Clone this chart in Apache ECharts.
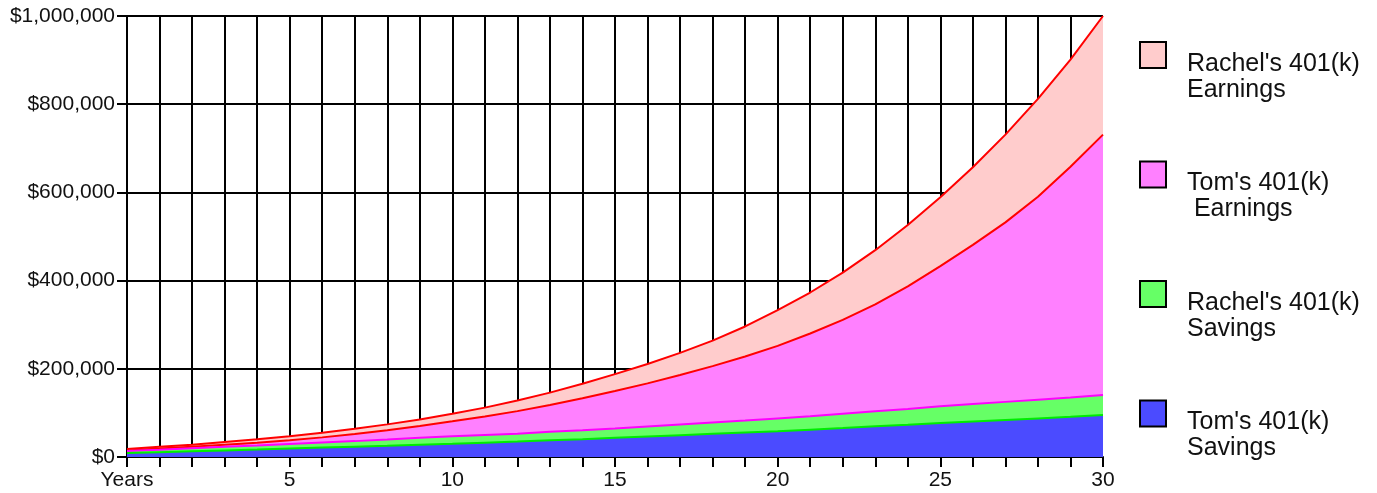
<!DOCTYPE html>
<html>
<head>
<meta charset="utf-8">
<title>401(k) Savings and Earnings</title>
<script src="https://cdn.jsdelivr.net/npm/echarts@6/dist/echarts.min.js"></script>
<style>
	html, body { margin: 0; padding: 0; background: #fff; }
	#myChart { width: 1377px; height: 493px; }
</style>
</head>
<body>
<div id="myChart"></div>
<script>
// years on the x axis
var years = [0, 1, 2, 3, 4, 5, 6, 7, 8, 9, 10, 11, 12, 13, 14, 15, 16, 17, 18, 19, 20, 21, 22, 23, 24, 25, 26, 27, 28, 29, 30]
// stacked bands, in dollars (bottom to top)
var tomSavings = [9000, 11000, 13000, 15000, 17000, 19500, 21500, 23500, 25500, 28000, 30000, 32500, 35000, 38000, 40500, 43500, 46500, 49500, 52500, 55500, 58500, 62000, 65500, 69500, 73000, 77000, 80500, 84000, 87500, 91000, 95000]
var rachelSavings = [4500, 5500, 7000, 8000, 9000, 10000, 11500, 12500, 14000, 15500, 17000, 17500, 18000, 19000, 20000, 21000, 22500, 24000, 25500, 27000, 29000, 30500, 32500, 34000, 36000, 38000, 39500, 41000, 42500, 44000, 45500]
var tomEarnings = [1500, 2500, 3500, 5000, 6500, 8500, 11500, 16000, 21000, 27000, 34000, 42000, 51000, 61000, 72500, 85000, 98000, 112500, 128000, 145500, 164500, 187500, 213000, 242500, 278000, 318000, 361000, 407000, 460000, 523000, 590500]
var rachelEarnings = [3000, 4000, 4500, 6000, 7500, 9000, 10500, 12000, 13500, 14500, 17000, 20000, 24000, 28000, 33000, 38500, 44000, 50000, 58000, 68000, 81000, 93000, 107000, 123000, 139000, 156000, 176000, 199000, 222000, 243000, 269000]
// labelled x ticks, the first one reads "Years"
var xLabelYears = [5, 10, 15, 20, 25, 30]

var FONT = '"Liberation Sans", Arial, Helvetica, sans-serif'

function money(v) {
	return '$' + String(v).replace(/\B(?=(\d{3})+(?!\d))/g, ',')
}
function band(name, values, fill, line, z) {
	return {
		name: name,
		type: 'line',
		stack: 'total',
		symbol: 'none',
		showSymbol: false,
		silent: true,
		z: z,
		itemStyle: { color: fill },
		lineStyle: { color: line, width: 2 },
		areaStyle: { color: fill, opacity: 1 },
		data: values
	}
}

var myEcharts = echarts.init(document.getElementById('myChart'))
myEcharts.setOption({
	animation: false,
	backgroundColor: '#fff',
	grid: {
		left: 127,
		right: 274,
		top: 16,
		bottom: 36,
		containLabel: false,
		outerBoundsMode: 'none'
	},
	legend: {
		orient: 'vertical',
		left: 1139,
		top: 28,
		padding: 0,
		itemWidth: 26,
		itemHeight: 26,
		itemGap: 45,
		icon: 'rect',
		selectedMode: false,
		itemStyle: { borderColor: '#000', borderWidth: 2 },
		// blank first row pushes the two text rows a bit below the box centre
		formatter: function(name) {
			return '{pad| }\n' + name.split('\n').map(function(s) { return '{t|' + s + '}' }).join('\n')
		},
		textStyle: {
			rich: {
				pad: { fontSize: 2, lineHeight: 44 },
				t: { fontFamily: FONT, fontSize: 25, lineHeight: 26, color: '#111', padding: [0, 0, 0, 16] }
			}
		},
		data: ["Rachel's 401(k)\nEarnings", "Tom's 401(k)\n Earnings", "Rachel's 401(k)\nSavings", "Tom's 401(k)\nSavings"]
	},
	xAxis: {
		type: 'category',
		data: years,
		boundaryGap: false,
		axisLine: { lineStyle: { color: '#000', width: 2 } },
		axisTick: { show: true, inside: false, interval: 0, length: 10, lineStyle: { color: '#000', width: 2 } },
		// last grid line sits under the coloured right edge of the areas
		splitLine: {
			show: true,
			interval: function(i) { return i < years.length - 1 },
			lineStyle: { color: '#000', width: 2 }
		},
		axisLabel: {
			interval: 0,
			margin: 13,
			fontFamily: FONT,
			fontSize: 21,
			color: '#111',
			formatter: function(v, i) {
				if (i === 0) return 'Years'
				return xLabelYears.indexOf(years[i]) >= 0 ? String(years[i]) : ''
			}
		}
	},
	yAxis: {
		type: 'value',
		min: 0,
		max: 1000000,
		interval: 200000,
		axisLine: { show: true, lineStyle: { color: '#000', width: 2 } },
		axisTick: { show: true, inside: false, length: 10, lineStyle: { color: '#000', width: 2 } },
		splitLine: { show: true, lineStyle: { color: '#000', width: 2 } },
		axisLabel: {
			margin: 12,
			fontFamily: FONT,
			fontSize: 21,
			color: '#111',
			formatter: money
		}
	},
	series: [
		band("Tom's 401(k)\nSavings", tomSavings, '#4b4bff', '#00ee00', 5),
		band("Rachel's 401(k)\nSavings", rachelSavings, '#66ff66', '#ff00ff', 4),
		band("Tom's 401(k)\n Earnings", tomEarnings, '#ff80ff', '#ff0000', 3),
		band("Rachel's 401(k)\nEarnings", rachelEarnings, '#ffcccc', '#ff0000', 2)
	]
})
</script>
</body>
</html>
